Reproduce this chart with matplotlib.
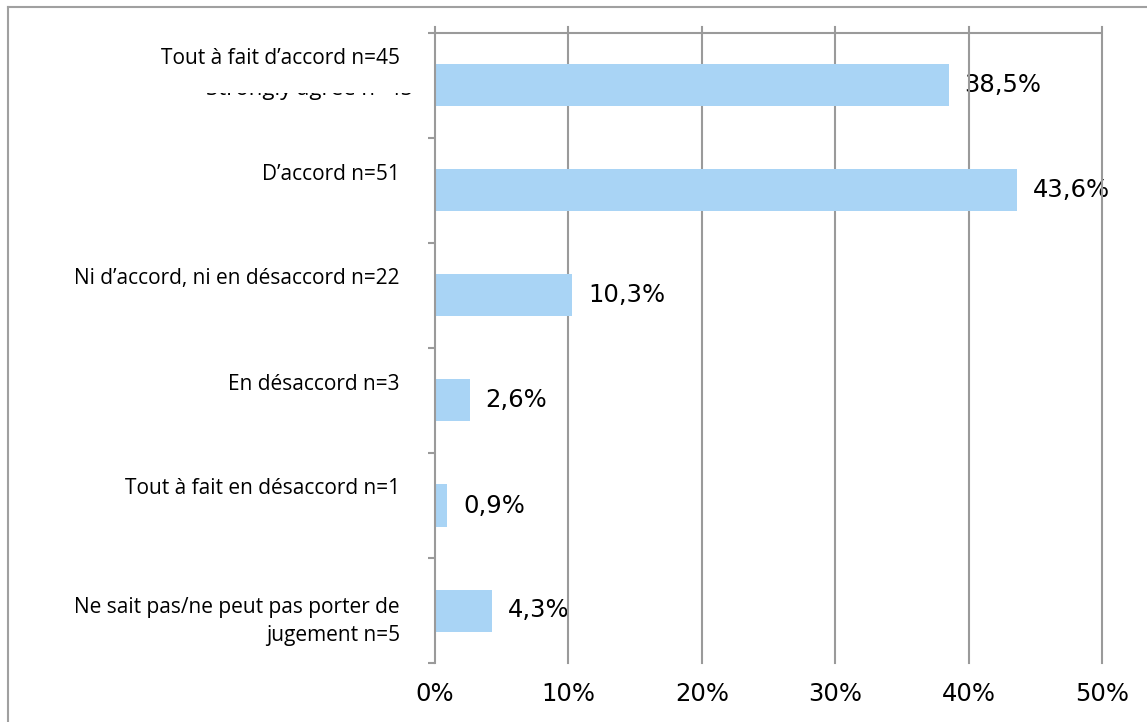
import matplotlib.pyplot as plt
from matplotlib.lines import Line2D
from matplotlib.transforms import Bbox, TransformedBbox

# Survey answers (French labels), counts and shares in percent
categories = [
    "Tout à fait d\u2019accord n=45",
    "D\u2019accord n=51",
    "Ni d\u2019accord, ni en désaccord n=22",
    "En désaccord n=3",
    "Tout à fait en désaccord n=1",
    "Ne sait pas/ne peut pas porter de\njugement n=5",
]
percent = [38.5, 43.6, 10.3, 2.6, 0.9, 4.3]
xticks = [0, 10, 20, 30, 40, 50]
xtick_labels = ["0%", "10%", "20%", "30%", "40%", "50%"]

bar_color = "#a9d4f5"
grid_color = "#9a9a9a"
px = 72 / 100  # pixels -> points at dpi 100

W, H = 1147, 722
fig = plt.figure(figsize=(W / 100, H / 100), dpi=100)
ax = fig.add_axes([435 / W, 1 - 663 / H, (1102 - 435) / W, (663 - 27) / H])

n = len(categories)
ypos = list(range(n))
ax.barh(ypos, percent, height=0.4, color=bar_color, zorder=3)
ax.set_xlim(0, 50)
ax.set_ylim(n - 0.5, -0.5 - 6 / 105)

# vertical gridlines and top boundary line
for x in xticks[1:]:
    ax.axvline(x, color=grid_color, lw=1.5, zorder=2, clip_on=False)
ax.axhline(-0.5, color=grid_color, lw=1.5, zorder=2)

for s in ["top", "right", "bottom"]:
    ax.spines[s].set_visible(False)
ax.spines["left"].set_color(grid_color)
ax.spines["left"].set_linewidth(1.5)
ax.spines["left"].set_zorder(4)

ax.set_yticks([])
ax.set_yticks([i - 0.5 for i in range(n + 1)], minor=True)
ax.tick_params(axis="y", which="minor", length=7 * px, width=1.5, color=grid_color)
ax.set_xticks(xticks)
ax.set_xticklabels(xtick_labels, fontsize=17.5, fontfamily="DejaVu Sans")
ax.tick_params(axis="x", length=0, pad=14)

# category labels (baseline offsets in pixels relative to bar centre)
label_shift = [-21, -10, -11, -10, -11, 30]
for i, (lab, sh) in enumerate(zip(categories, label_shift)):
    ax.annotate(lab, xy=(0, i), xycoords=("axes fraction", "data"),
                xytext=(-35 * px, -sh * px), textcoords="offset points",
                ha="right", va="baseline", fontsize=15, fontfamily="Open Sans",
                linespacing=1.4, multialignment="right")

# leftover of an older label, partly hidden
ghost = ax.annotate("Strongly agree n=45", xy=(0, 0), xycoords=("axes fraction", "data"),
                    xytext=(-22 * px, -10 * px), textcoords="offset points",
                    ha="right", va="baseline", fontsize=16, fontfamily="Open Sans",
                    annotation_clip=False)
ghost.set_clip_box(TransformedBbox(Bbox([[0, (H - 102) / H], [430 / W, (H - 93) / H]]),
                                   fig.transFigure))
ghost.set_clip_on(True)

# value labels
for i, v in enumerate(percent):
    ax.annotate(f"{v:.1f}".replace(".", ",") + "%", xy=(v, i),
                xytext=(16 * px, 0), textcoords="offset points",
                ha="left", va="center", fontsize=17.5, fontfamily="DejaVu Sans",
                zorder=1, annotation_clip=False)

# outer frame
fig.add_artist(Line2D([8 / W, 8 / W], [0, 1 - 7 / H], transform=fig.transFigure,
                      color="#a0a0a0", lw=1.5))
fig.add_artist(Line2D([8 / W, 1], [1 - 7 / H, 1 - 7 / H], transform=fig.transFigure,
                      color="#a0a0a0", lw=1.5))

fig.savefig("out.png", dpi=100)
